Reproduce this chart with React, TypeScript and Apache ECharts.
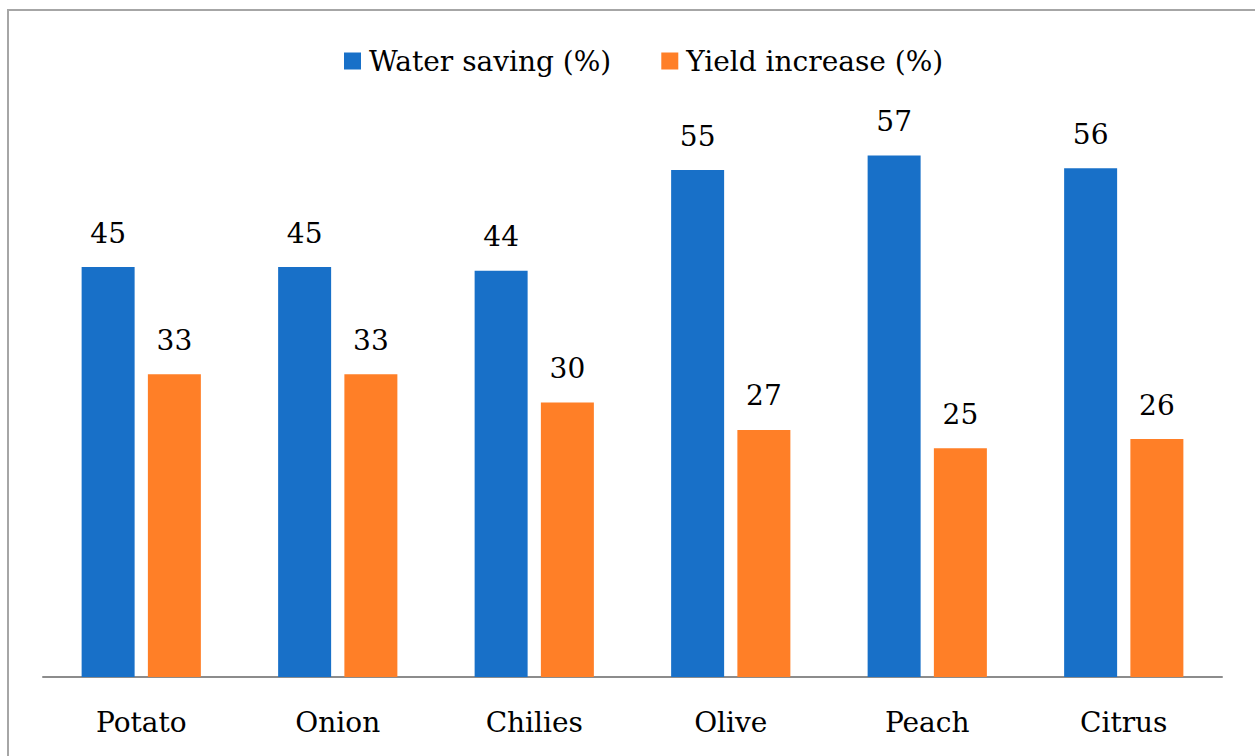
import React, { useEffect, useRef } from "react";
import * as echarts from "echarts";

const categories = ["Potato", "Onion", "Chilies", "Olive", "Peach", "Citrus"];
const waterSaving = [44.8, 44.8, 44.4, 55.4, 57, 55.6];
const yieldIncrease = [33.1, 33.1, 30, 27, 25, 26];
const seriesNames = ["Water saving (%)", "Yield increase (%)"];

const FONT = "DejaVu Serif";

export default function App() {
  const ref = useRef<HTMLDivElement>(null);
  useEffect(() => {
    const chart = echarts.init(ref.current!, null, { renderer: "svg" });
    const label = {
      show: true,
      position: "top",
      distance: 20,
      color: "#000",
      fontFamily: FONT,
      fontSize: 28,
      formatter: (p: any) => String(Math.round(p.value)),
    };
    chart.setOption({
      animation: false,
      backgroundColor: "#fff",
      graphic: [
        {
          type: "rect",
          shape: { x: 8, y: 10, width: 1400, height: 900 },
          style: { fill: "none", stroke: "#a6a6a6", lineWidth: 2 },
          silent: true,
        },
      ],
      legend: {
        left: 339,
        top: 42,
        itemWidth: 17,
        itemHeight: 17,
        itemGap: 50,
        icon: "rect",
        textStyle: {
          fontFamily: FONT,
          fontSize: 28,
          color: "#000",
          padding: [0, 0, 0, 3],
        },
        data: seriesNames,
      },
      grid: { left: 43, right: 33, top: 128, bottom: 79, containLabel: false },
      xAxis: {
        type: "category",
        data: categories,
        axisLine: { lineStyle: { color: "#8c8c8c", width: 2 } },
        axisTick: { show: false },
        axisLabel: {
          color: "#000",
          fontFamily: FONT,
          fontSize: 28,
          margin: 31,
        },
      },
      yAxis: {
        type: "value",
        min: 0,
        max: 60,
        show: false,
        splitLine: { show: false },
      },
      series: [
        {
          name: seriesNames[0],
          type: "bar",
          data: waterSaving,
          barWidth: 53,
          barGap: "25%",
          itemStyle: { color: "#1870C8" },
          label,
        },
        {
          name: seriesNames[1],
          type: "bar",
          data: yieldIncrease,
          barWidth: 53,
          barGap: "25%",
          itemStyle: { color: "#FF7F27" },
          label,
        },
      ],
    });
    return () => chart.dispose();
  }, []);
  return (
    <div
      ref={ref}
      style={{ position: "fixed", left: 0, top: 0, width: 1255, height: 756 }}
    />
  );
}
